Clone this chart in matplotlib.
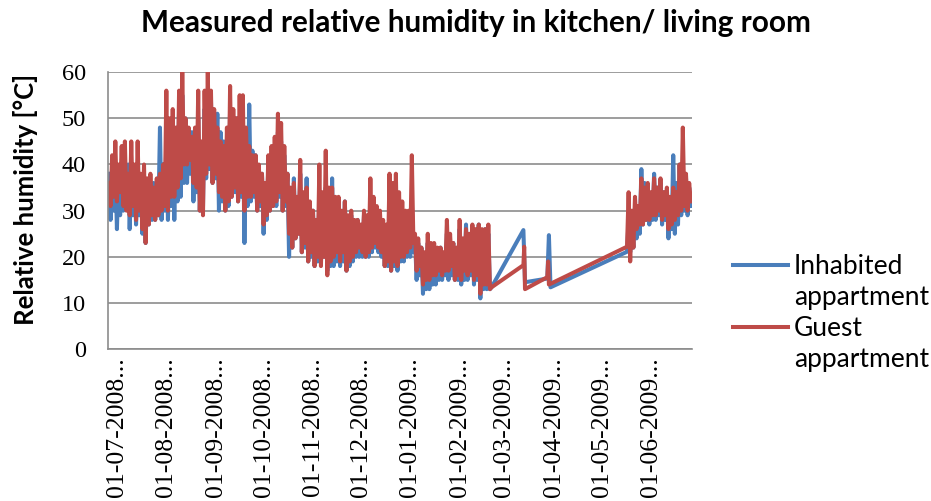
"""
Measured relative humidity in kitchen / living room, two appartments
"""
import datetime as dt
import numpy as np
import matplotlib
matplotlib.use("Agg")
import matplotlib.pyplot as plt
from matplotlib.lines import Line2D

start = dt.datetime(2008, 7, 1)

# dense logging period, one reading per day (day offset from 01-07-2008)
days_dense = np.arange(-5, 235)
# gap period with only a few readings
days_gap_inhabited = [235, 255, 256, 270, 271, 272, 320]
days_gap_guest = [235, 255, 255.5, 256, 270, 270.5, 271, 320]
# logging resumes in june 2009
days_june = np.arange(321, 361)

rh_inhabited_dense = [
    38, 28, 40, 30, 40, 26, 38, 29, 38, 30, 36, 31, 40, 26, 37, 29,
    38, 27, 36, 29, 36, 25, 35, 23, 35, 27, 34, 28, 36, 28, 35, 29,
    48, 28, 40, 30, 45, 28, 42, 31, 50, 28, 46, 32, 52, 33, 55, 36,
    50, 36, 47, 38, 47, 32, 44, 34, 50, 30, 44, 31, 52, 37, 55, 39,
    54, 36, 50, 37, 51, 30, 47, 32, 45, 30, 43, 31, 52, 33, 49, 34,
    50, 32, 48, 33, 50, 23, 45, 31, 53, 32, 43, 33, 42, 30, 39, 31,
    38, 25, 35, 28, 40, 30, 38, 31, 44, 31, 47, 33, 45, 30, 42, 31,
    38, 20, 34, 22, 37, 24, 32, 25, 38, 21, 33, 22, 37, 19, 31, 20,
    30, 18, 28, 19, 33, 19, 30, 20, 35, 17, 32, 18, 37, 18, 32, 19,
    32, 18, 29, 19, 32, 17, 28, 18, 29, 19, 27, 20, 28, 20, 26, 20,
    29, 20, 27, 20, 33, 21, 31, 22, 30, 21, 29, 20, 27, 18, 26, 18,
    32, 17, 30, 18, 33, 17, 31, 19, 30, 19, 29, 20, 29, 20, 32, 21,
    24, 15, 23, 16, 22, 12, 20, 13, 23, 13, 22, 14, 22, 14, 21, 15,
    22, 15, 20, 16, 25, 15, 23, 16, 23, 15, 21, 15, 26, 14, 23, 15,
    27, 15, 24, 16, 26, 14, 25, 15, 27, 11, 25, 13, 26, 13, 25, 13,
]
rh_guest_dense = [
    36, 31, 42, 33, 45, 32, 40, 34, 44, 31, 45, 30, 38, 29, 45, 31,
    40, 28, 45, 30, 38, 26, 40, 23, 37, 27, 38, 29, 35, 28, 37, 29,
    38, 30, 40, 31, 56, 30, 50, 33, 52, 33, 48, 35, 56, 37, 60, 40,
    50, 40, 48, 41, 46, 36, 48, 35, 56, 30, 45, 29, 56, 38, 60, 40,
    56, 36, 52, 38, 48, 34, 45, 33, 44, 30, 48, 32, 57, 33, 52, 35,
    50, 32, 55, 34, 55, 30, 48, 33, 44, 33, 42, 34, 42, 30, 40, 32,
    38, 27, 36, 29, 42, 30, 44, 31, 46, 32, 51, 34, 49, 30, 44, 32,
    38, 25, 35, 22, 36, 24, 33, 25, 41, 21, 34, 23, 35, 19, 32, 21,
    30, 18, 28, 20, 40, 18, 34, 20, 43, 16, 35, 19, 35, 20, 33, 21,
    33, 19, 30, 21, 32, 17, 29, 19, 30, 20, 28, 21, 28, 22, 27, 21,
    30, 20, 29, 21, 37, 22, 33, 23, 31, 22, 30, 21, 28, 18, 27, 19,
    38, 17, 36, 19, 38, 18, 34, 20, 32, 20, 30, 21, 30, 22, 42, 23,
    25, 17, 24, 18, 22, 14, 21, 15, 25, 15, 23, 16, 23, 16, 22, 17,
    22, 16, 21, 17, 28, 17, 25, 18, 23, 15, 22, 16, 28, 15, 24, 17,
    26, 16, 25, 17, 27, 15, 26, 16, 27, 12, 26, 14, 26, 14, 27, 13,
]
rh_inhabited_gap = [13.4, 25.8, 14.5, 15.3, 24.7, 13.4, 21.1]
rh_guest_gap = [13.4, 18.2, 22.2, 13.0, 15.6, 19.0, 14.0, 22.2]
rh_inhabited_june = [28, 21, 27, 22, 30, 24, 29, 25, 39, 27, 36, 28, 35, 27,
                     33, 28, 38, 28, 35, 29, 36, 27, 34, 28, 34, 24, 32, 26,
                     42, 25, 36, 27, 40, 29, 38, 30, 37, 29, 35, 31]
rh_guest_june = [34, 19, 30, 22, 33, 26, 31, 27, 37, 27, 35, 28, 36, 28,
                 34, 29, 37, 29, 35, 30, 37, 28, 34, 29, 35, 26, 33, 27,
                 35, 28, 34, 29, 40, 30, 48, 31, 38, 30, 36, 32]

month_ticks = ["01-07-2008", "01-08-2008", "01-09-2008", "01-10-2008",
               "01-11-2008", "01-12-2008", "01-01-2009", "01-02-2009",
               "01-03-2009", "01-04-2009", "01-05-2009", "01-06-2009"]

blue = "#4A7EBB"
red = "#BE4B48"
grey = "#8C8C8C"


def to_dates(days):
    return [start + dt.timedelta(days=float(d)) for d in days]


x_inh = to_dates(list(days_dense) + days_gap_inhabited + list(days_june))
y_inh = rh_inhabited_dense + rh_inhabited_gap + rh_inhabited_june
x_gst = to_dates(list(days_dense) + days_gap_guest + list(days_june))
y_gst = rh_guest_dense + rh_guest_gap + rh_guest_june

fig = plt.figure(figsize=(9.31, 5.01), dpi=100)
ax = fig.add_axes([0.116, 0.303, 0.627, 0.553])

l_inh, = ax.plot(x_inh, y_inh, color=blue, lw=2.9, solid_joinstyle="round")
l_gst, = ax.plot(x_gst, y_gst, color=red, lw=2.9, solid_joinstyle="round")

ax.set_ylim(0, 60)
ax.set_yticks(range(0, 61, 10))
ax.set_xlim(start - dt.timedelta(days=5.6), start + dt.timedelta(days=360.6))
tick_dates = [dt.datetime.strptime(t, "%d-%m-%Y") for t in month_ticks]
ax.set_xticks(tick_dates)
ax.set_xticklabels([t + "..." for t in month_ticks], rotation=90,
                   family="Liberation Serif", fontsize=18.5)
for lab in ax.get_yticklabels():
    lab.set_family("Liberation Serif")
    lab.set_fontsize(17.5)

ax.grid(axis="y", color=grey, lw=1.2)
ax.set_axisbelow(True)
ax.tick_params(axis="y", length=0, pad=16)
ax.tick_params(axis="x", length=0, pad=6)
for side in ["top", "right"]:
    ax.spines[side].set_visible(False)
for side in ["left", "bottom"]:
    ax.spines[side].set_color(grey)
    ax.spines[side].set_linewidth(1.2)

ax.set_ylabel("Relative humidity [°C]", family="Lato", fontweight="bold",
              fontsize=18.5)
ax.yaxis.set_label_coords(-0.12, 0.54)
fig.text(0.511, 0.955, "Measured relative humidity in kitchen/ living room",
         ha="center", va="center", family="Lato", fontweight="bold",
         fontsize=21.4)

# legend: second line of each label carries no handle
blank = Line2D([], [], color="none")
ax.legend([l_inh, blank, l_gst, blank],
          ["Inhabited", "appartment", "Guest", "appartment"],
          loc="center left", bbox_to_anchor=(733 / 931, 1 - 313 / 501),
          bbox_transform=fig.transFigure, frameon=False, borderpad=0,
          borderaxespad=0, prop={"family": "Lato", "size": 19},
          handlelength=2.1, handletextpad=0.2, labelspacing=0.22)

fig.savefig("out.png", dpi=100)
